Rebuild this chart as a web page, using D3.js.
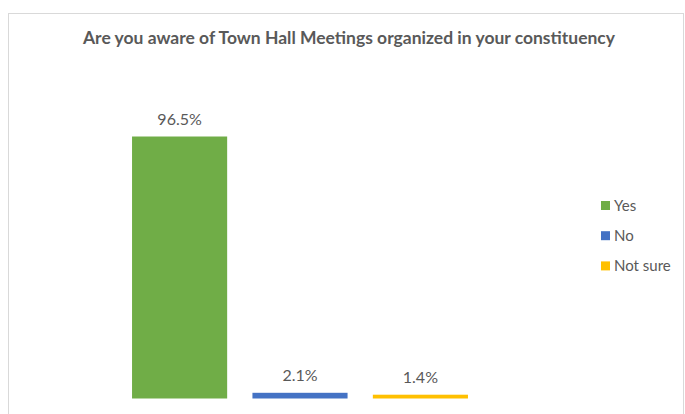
<!DOCTYPE html>
<html>
<head>
<meta charset="utf-8">
<script src="https://cdn.jsdelivr.net/npm/d3@7/dist/d3.min.js"></script>
<style>
  html, body { margin: 0; padding: 0; background: #fff; }
  svg { display: block; }
  text { font-family: Lato, "Open Sans", "Liberation Sans", sans-serif; fill: #595959; }
</style>
</head>
<body>
<svg id="chart" width="685" height="414"></svg>
<script>
// Survey answers and their shares (percent)
const categories = ["Yes", "No", "Not sure"];
const values = [96.5, 2.1, 1.4];
const colors = ["#70AD47", "#4472C4", "#FFC000"];
const title = "Are you aware of Town Hall Meetings organized in your constituency";

const svg = d3.select("#chart");

// chart frame
svg.append("rect")
  .attr("x", 8.5).attr("y", 13.5)
  .attr("width", 675).attr("height", 420)
  .attr("fill", "#fff")
  .attr("stroke", "#D9D9D9")
  .attr("stroke-width", 1);

// title
svg.append("text")
  .attr("x", 349).attr("y", 44)
  .attr("text-anchor", "middle")
  .attr("font-size", 16.5)
  .attr("font-weight", "bold")
  .attr("textLength", 532)
  .attr("lengthAdjust", "spacingAndGlyphs")
  .text(title);

// plot area
const plot = { left: 120, right: 480, top: 127, bottom: 398.5 };

const x = d3.scaleBand()
  .domain(categories)
  .range([plot.left, plot.right])
  .paddingInner(0.21)
  .paddingOuter(0.1);

const y = d3.scaleLinear()
  .domain([0, 100])
  .range([plot.bottom, plot.top]);

const data = categories.map((c, i) => ({ cat: c, val: values[i], color: colors[i] }));

svg.append("g").selectAll("rect")
  .data(data)
  .join("rect")
  .attr("x", d => x(d.cat))
  .attr("y", d => y(d.val))
  .attr("width", x.bandwidth())
  .attr("height", d => y(0) - y(d.val))
  .attr("fill", d => d.color);

// value labels
svg.append("g").selectAll("text")
  .data(data)
  .join("text")
  .attr("x", d => x(d.cat) + x.bandwidth() / 2)
  .attr("y", d => y(d.val) - 12)
  .attr("text-anchor", "middle")
  .attr("font-size", 16)
  .text(d => d.val.toFixed(1) + "%");

// legend
const legend = svg.append("g").attr("transform", "translate(601,201)");
const item = legend.selectAll("g")
  .data(data)
  .join("g")
  .attr("transform", (d, i) => `translate(0,${i * 30.2})`);
item.append("rect")
  .attr("width", 9).attr("height", 9)
  .attr("fill", d => d.color);
item.append("text")
  .attr("x", 13).attr("y", 9.5)
  .attr("font-size", 15)
  .text(d => d.cat);
</script>
</body>
</html>
